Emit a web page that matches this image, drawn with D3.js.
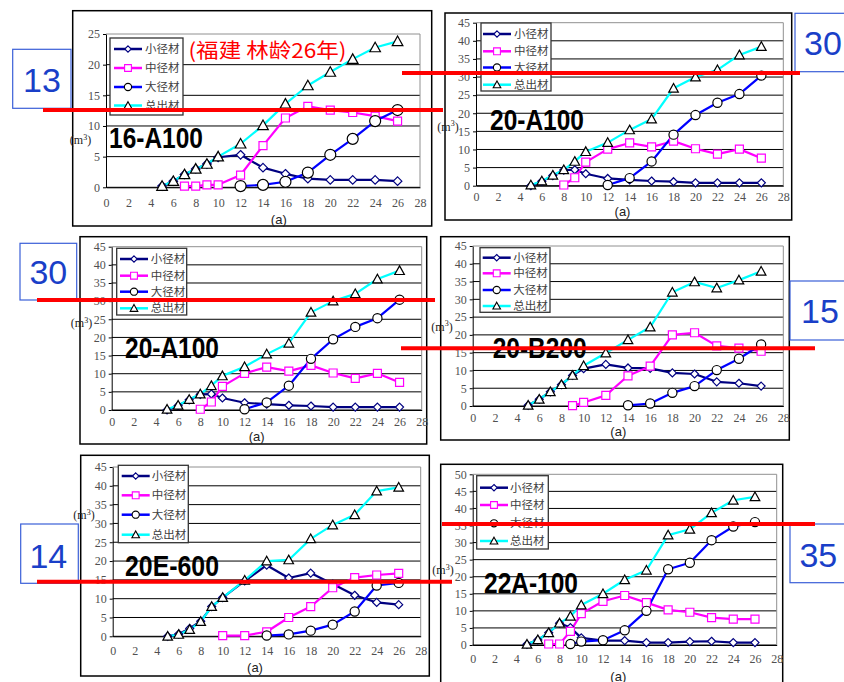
<!DOCTYPE html>
<html><head><meta charset="utf-8">
<script src="https://cdn.jsdelivr.net/npm/d3@7"></script>
<style>body{margin:0;background:#fff}svg{display:block}</style>
</head><body><svg id="c" width="844" height="682"></svg>
<script>
// ---------- data ----------
const ages = [5,6,7,8,9,10,12,14,16,18,20,22,24,26];
const seriesNames = ["小径材","中径材","大径材","总出材"];
const xTickValues = [0,2,4,6,8,10,12,14,16,18,20,22,24,26,28];
const _ = null;

// 16-A100
const a16_small = [0.2,1.0,2.1,3.0,3.8,4.9,5.3,3.2,2.2,1.4,1.2,1.2,1.2,1.0];
const a16_mid   = [_,_,0.2,0.2,0.4,0.4,2.0,6.8,11.3,13.2,12.6,12.2,11.6,10.8];
const a16_large = [_,_,_,_,_,_,0.2,0.4,0.9,2.4,5.3,7.9,10.8,12.6];
const a16_total = [0.2,1.0,2.1,3.0,3.8,5.0,7.1,10.1,13.6,16.6,18.8,20.9,22.8,23.8];
// 20-A100
const a20_small = [0.0,1.2,2.8,4.3,4.4,3.3,2.0,1.6,1.3,1.1,0.8,0.8,0.8,0.8];
const a20_mid   = [_,_,_,0.2,2.2,6.5,10.1,11.8,10.7,12.3,10.2,8.7,10.1,7.6];
const a20_large = [_,_,_,_,_,_,0.2,2.1,6.7,14.1,19.5,22.9,25.3,30.4];
const a20_total = [0.2,1.3,2.9,4.4,6.7,9.4,11.9,15.4,18.4,26.9,30.0,32.0,36.1,38.4];
// 20-B200
const b20_small = [0.2,1.9,4.0,6.0,8.6,10.5,11.7,10.7,10.6,9.3,9.0,6.8,6.4,5.6];
const b20_mid   = [_,_,_,_,0.1,1.0,3.0,8.5,11.2,20.0,20.6,16.9,16.3,15.4];
const b20_large = [_,_,_,_,_,_,_,0.2,0.7,3.7,5.6,10.1,13.3,17.3];
const b20_total = [0.2,1.9,4.0,6.0,8.6,11.3,14.9,18.6,22.2,32.0,34.9,33.2,35.4,37.9];
// 20E-600
const e20_small = [0.0,0.6,2.1,4.0,7.9,10.3,14.7,18.9,15.5,16.8,13.9,10.9,9.0,8.4];
const e20_mid   = [_,_,_,_,_,0.2,0.2,1.2,5.0,7.9,12.9,15.6,16.3,16.7];
const e20_large = [_,_,_,_,_,_,_,0.2,0.5,1.5,3.1,6.6,13.5,14.2];
const e20_total = [0.0,0.5,1.8,3.9,7.9,10.3,14.9,20.0,20.3,25.9,29.6,32.3,38.6,39.6];
// 22A-100
const a22_small = [0.2,1.5,3.6,6.4,5.1,2.1,1.3,1.3,0.7,0.7,1.0,1.1,0.7,0.7];
const a22_mid   = [_,_,0.3,0.3,4.0,9.2,12.8,14.5,12.4,10.3,9.6,8.0,7.6,7.6];
const a22_large = [_,_,_,_,0.3,1.0,1.4,4.3,10.0,22.2,24.1,30.7,34.7,36.0];
const a22_total = [0.2,1.5,3.6,6.4,8.4,11.7,15.0,19.1,21.9,32.2,33.9,38.7,42.4,43.4];

const panelLabels = ["16-A100","20-A100","20-A100","20-B200","20E-600","22A-100"];
const panelYMax = [25,45,45,45,45,50];
const panelSeries = [
  [a16_small,a16_mid,a16_large,a16_total],
  [a20_small,a20_mid,a20_large,a20_total],
  [a20_small,a20_mid,a20_large,a20_total],
  [b20_small,b20_mid,b20_large,b20_total],
  [e20_small,e20_mid,e20_large,e20_total],
  [a22_small,a22_mid,a22_large,a22_total]
];
const titleText = "(福建  林龄26年)";
const noteNumbers = ["13","30","30","15","14","35"];

// ---------- layout ----------
const layout = [
  {box:[72.7,10.7,431.7,226], plot:{l:106,r:420,b:187.3,t:34}, xdy:19, a:[278.8,219], m3:[80.5,140],
   leg:{x:110,y:38,w:73,h:77,ys:[49,68,87,105.5],lx:114,tx:145}, lab:[109,148], big:true},
  {box:[445,13,791.7,220], plot:{l:476,r:783.3,b:185.7,t:22.7}, xdy:15, a:[622.5,211], m3:[448,126.3],
   leg:{x:481,y:23,w:70,h:68,ys:[34,51.3,67.5,84.7],lx:483,tx:514}, lab:[490,129.7]},
  {box:[80,236.7,426.7,444], plot:{l:111.7,r:421.7,b:410,t:246.7}, xdy:15.7, a:[256.7,436.7], m3:[81.5,323],
   leg:{x:116.7,y:248.3,w:70,h:66.7,ys:[259,275.7,291.7,308.3],lx:120,tx:150.7}, lab:[125,358.3]},
  {box:[440.7,236.7,789.3,440], plot:{l:472.7,r:783.3,b:406,t:246}, xdy:15, a:[618.3,431.7], m3:[442,326.7],
   leg:{x:480,y:247.7,w:70,h:64.6,ys:[257.7,273.3,290,306],lx:482.7,tx:513.3}, lab:[492.7,358.3]},
  {box:[80.7,455.3,429.3,676], plot:{l:112.7,r:420.7,b:636.3,t:467}, xdy:18.4, a:[255,667], m3:[84,515],
   leg:{x:118.3,y:465.3,w:70,h:77.4,ys:[476,495.3,514.7,534.7],lx:121.7,tx:151.7}, lab:[125,576]},
  {box:[440.7,464.3,782.7,700], plot:{l:472.7,r:776.7,b:645,t:474.3}, xdy:17.3, a:[618.3,676.5], m3:[443,570],
   leg:{x:476.7,y:475.7,w:71.6,h:73.3,ys:[487.7,505,523.3,541],lx:480,tx:510}, lab:[484,593.3]}
];
const notes = [
  {box:[12.7,49.3,71,108.3], c:[42,80]},
  {box:[795,13.3,852,71.7], c:[823,43]},
  {box:[20,243.3,76.7,300], c:[48.3,271.7]},
  {box:[790,281,852,340], c:[820,311]},
  {box:[20.7,524,78.3,583.3], c:[48.3,555.5]},
  {box:[790,524,852,582.7], c:[818.3,555]}
];
const redLines = [[43,110,443],[402,73,800],[37,300,435],[401,348.3,815],[37,581.7,452],[442,524,815]];

const lineColors = ["#000080","#ff00ff","#0000ff","#00ffff"];
const markStroke = ["#000080","#ff00ff","#000000","#000000"];
const markType = ["diamond","square","circle","triangle"];

const svg = d3.select("#c");

function markerPath(type, s){
  if(type==="diamond") return `M0,${-s}L${s},0L0,${s}L${-s},0Z`;
  if(type==="square") return `M${-s},${-s}H${s}V${s}H${-s}Z`;
  if(type==="circle") return `M${s},0A${s},${s},0,1,1,${-s},0A${s},${s},0,1,1,${s},0Z`;
  const h = s;
  return `M0,${-h}L${s},${h*0.8}L${-s},${h*0.8}Z`;
}

layout.forEach((L,pi)=>{
  const g = svg.append("g");
  const [bx0,by0,bx1,by1] = L.box;
  g.append("rect").attr("x",bx0).attr("y",by0).attr("width",bx1-bx0).attr("height",by1-by0)
    .attr("fill","#fff").attr("stroke","#000").attr("stroke-width",1.5);

  const ymax = panelYMax[pi];
  const x = d3.scaleLinear().domain([0,28]).range([L.plot.l,L.plot.r]);
  const y = d3.scaleLinear().domain([0,ymax]).range([L.plot.b,L.plot.t]);

  const yt = d3.range(0,ymax+0.1,5);
  g.selectAll(".grid").data(yt).join("line")
    .attr("x1",x(0)).attr("x2",x(28)).attr("y1",d=>y(d)).attr("y2",d=>y(d))
    .attr("stroke",d=>d===ymax?"#909090":"#000").attr("stroke-width",1);
  g.append("line").attr("x1",x(28)).attr("x2",x(28)).attr("y1",y(0)).attr("y2",y(ymax))
    .attr("stroke","#909090").attr("stroke-width",1);

  const ya = g.append("g").attr("transform",`translate(${x(0)},0)`)
    .call(d3.axisLeft(y).tickValues(yt).tickSize(3).tickSizeOuter(0).tickPadding(3));
  ya.select(".domain").attr("stroke","#000");
  ya.selectAll(".tick line").attr("stroke","#000");
  ya.selectAll("text").attr("font-family","'Liberation Serif','DejaVu Serif',serif")
    .attr("font-size",12).attr("fill","#505050");
  const xa = g.append("g").attr("transform",`translate(0,${y(0)})`)
    .call(d3.axisBottom(x).tickValues(xTickValues).tickSize(0).tickPadding(L.xdy-8));
  xa.select(".domain").attr("stroke","#000");
  xa.selectAll("text").attr("font-family","'Liberation Serif','DejaVu Serif',serif")
    .attr("font-size",12).attr("fill","#505050");

  const big = !!L.big;
  const sizes = big ? {diamond:4.3,square:4,circle:5.5,triangle:5.3} : {diamond:4,square:4,circle:4.6,triangle:4.8};
  const ser = panelSeries[pi];
  ser.forEach((vals,si)=>{
    const pts = ages.map((a,i)=>({a,v:vals[i]})).filter(d=>d.v!==null);
    g.append("path").attr("d",d3.line().x(d=>x(d.a)).y(d=>y(d.v))(pts))
      .attr("fill","none").attr("stroke",lineColors[si]).attr("stroke-width",2.2).attr("stroke-linejoin","round");
  });
  ser.forEach((vals,si)=>{
    const pts = ages.map((a,i)=>({a,v:vals[i]})).filter(d=>d.v!==null);
    g.selectAll(null).data(pts).join("path")
      .attr("transform",d=>`translate(${x(d.a)},${y(d.v)})`)
      .attr("d",markerPath(markType[si],sizes[markType[si]]))
      .attr("fill","#fff").attr("stroke",markStroke[si]).attr("stroke-width",1.2);
  });

  const lg = L.leg;
  g.append("rect").attr("x",lg.x).attr("y",lg.y).attr("width",lg.w).attr("height",lg.h)
    .attr("fill","#fff").attr("stroke","#333").attr("stroke-width",1.3);
  const lsz = {diamond:3.2,square:3.4,circle:3.6,triangle:3.8};
  seriesNames.forEach((nm,si)=>{
    const yy = lg.ys[si];
    g.append("line").attr("x1",lg.lx).attr("x2",lg.lx+28).attr("y1",yy).attr("y2",yy)
      .attr("stroke",lineColors[si]).attr("stroke-width",2.5);
    g.append("path").attr("transform",`translate(${lg.lx+14},${yy})`)
      .attr("d",markerPath(markType[si],lsz[markType[si]]))
      .attr("fill","#fff").attr("stroke",markStroke[si]).attr("stroke-width",1.1);
    g.append("text").attr("x",lg.tx).attr("y",yy).attr("dy","0.36em")
      .attr("font-family","'Noto Sans CJK SC',sans-serif").attr("font-size",11.5).attr("fill","#404040")
      .text(nm);
  });

  g.append("text").attr("x",L.lab[0]).attr("y",L.lab[1])
    .attr("font-family","'Liberation Sans',Arial,sans-serif").attr("font-weight","bold")
    .attr("font-size",29).attr("textLength",94).attr("lengthAdjust","spacingAndGlyphs")
    .attr("fill","#000").text(panelLabels[pi]);

  g.append("text").attr("x",L.a[0]).attr("y",L.a[1]).attr("dy","0.35em").attr("text-anchor","middle")
    .attr("font-family","'Liberation Sans',Arial,sans-serif").attr("font-size",13).attr("fill","#222").text("(a)");
  const mt = g.append("text").attr("x",L.m3[0]).attr("y",L.m3[1]).attr("dy","0.35em").attr("text-anchor","middle")
    .attr("font-family","'Liberation Serif','DejaVu Serif',serif").attr("font-size",12).attr("fill","#222");
  mt.append("tspan").text("(m");
  mt.append("tspan").attr("dy",-4.5).attr("font-size",8).text("3");
  mt.append("tspan").attr("dy",4.5).text(")");
});

svg.append("text").attr("x",188.5).attr("y",57.5)
  .attr("font-family","'Noto Sans CJK SC',sans-serif").attr("font-size",20.5)
  .attr("textLength",158).attr("lengthAdjust","spacingAndGlyphs")
  .attr("fill","#ff0000").text(titleText);

notes.forEach((n,i)=>{
  const [x0,y0,x1,y1] = n.box;
  svg.append("rect").attr("x",x0).attr("y",y0).attr("width",x1-x0).attr("height",y1-y0)
    .attr("fill","#fff").attr("stroke","#3a5fd8").attr("stroke-width",1.2);
  svg.append("text").attr("x",n.c[0]).attr("y",n.c[1]).attr("dy","0.36em").attr("text-anchor","middle")
    .attr("font-family","'Liberation Sans',Arial,sans-serif").attr("font-size",34)
    .attr("fill","#1a3fc8").text(noteNumbers[i]);
});

svg.selectAll(".red").data(redLines).join("line")
  .attr("x1",d=>d[0]).attr("x2",d=>d[2]).attr("y1",d=>d[1]).attr("y2",d=>d[1])
  .attr("stroke","#ff0000").attr("stroke-width",4);
</script></body></html>
